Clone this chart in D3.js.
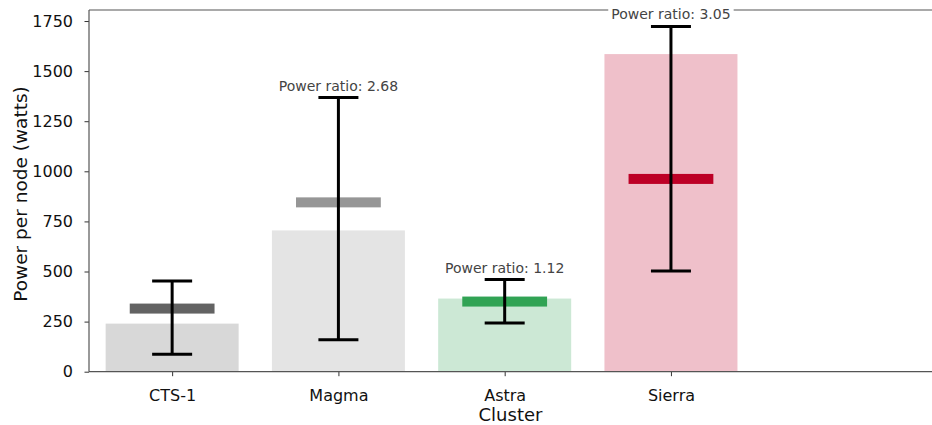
<!DOCTYPE html>
<html><head><meta charset="utf-8">
<script src="https://cdn.jsdelivr.net/npm/d3@7"></script>
<style>body{margin:0;background:#fff}svg{display:block}text{font-family:"DejaVu Sans",sans-serif}</style>
</head><body><svg id="c" width="932" height="425"></svg>
<script>
const categories = ["CTS-1","Magma","Astra","Sierra"];
const barValues = [240, 705, 365, 1585];
const errLow = [87, 160, 243, 502];
const errHigh = [453, 1368, 460, 1723];
const markerValues = [315, 845, 350, 962];
const ratioLabels = [null, "Power ratio: 2.68", "Power ratio: 1.12", "Power ratio: 3.05"];
const markerColors = ["#636363","#969696","#31a354","#bd0026"];
const barColors = ["#d8d8d8","#e4e4e4","#cce8d5","#efc0ca"];
const yTicks = [0,250,500,750,1000,1250,1500,1750];

const svg = d3.select("#c");
const L=89, R=932, T=10, B=371.7;
const x = d3.scaleLinear().domain([-0.5, 4.57]).range([L, R]);
const y = d3.scaleLinear().domain([0, 1805]).range([B, T]);
const bw = 0.8;

const g = svg.append("g");
categories.forEach((c,i)=>{
  g.append("rect").attr("x", x(i-bw/2)).attr("width", x(i+bw/2)-x(i-bw/2))
   .attr("y", y(barValues[i])).attr("height", y(0)-y(barValues[i])).attr("fill", barColors[i]);
});
categories.forEach((c,i)=>{
  const cx = x(i);
  const mw = x(0.255)-x(0);
  g.append("rect").attr("x", cx-mw).attr("width", 2*mw).attr("y", y(markerValues[i])-5).attr("height",10).attr("fill", markerColors[i]);
  g.append("line").attr("x1",cx).attr("x2",cx).attr("y1",y(errLow[i])).attr("y2",y(errHigh[i])).attr("stroke","#000").attr("stroke-width",3);
  [errLow[i], errHigh[i]].forEach(v=>{
    g.append("line").attr("x1",cx-20).attr("x2",cx+20).attr("y1",y(v)).attr("y2",y(v)).attr("stroke","#000").attr("stroke-width",3);
  });
});

// axes
const yAxis = d3.axisLeft(y).tickValues(yTicks).tickSize(4.5).tickPadding(11.5).tickFormat(d3.format("d"));
const ya = svg.append("g").attr("transform",`translate(${L},0)`).call(yAxis);
const xAxis = d3.axisBottom(x).tickValues(d3.range(categories.length)).tickSize(4.5).tickPadding(13).tickFormat(i=>categories[i]);
const xa = svg.append("g").attr("transform",`translate(0,${B})`).call(xAxis);
[ya,xa].forEach(a=>{
  a.attr("font-family",null).attr("font-size",null);
  a.select(".domain").remove();
  a.selectAll(".tick line").attr("stroke","#333").attr("stroke-width",1);
  a.selectAll(".tick text").attr("fill","#111").style("font-size","16px");
});
// spines
svg.append("line").attr("x1",L).attr("x2",R).attr("y1",B).attr("y2",B).attr("stroke","#555").attr("stroke-width",1.2);
svg.append("line").attr("x1",L).attr("x2",L).attr("y1",T).attr("y2",B).attr("stroke","#555").attr("stroke-width",1.2);
svg.append("line").attr("x1",L).attr("x2",R).attr("y1",T).attr("y2",T).attr("stroke","#555").attr("stroke-width",1.2);

// annotations
const ann = svg.append("g");
categories.forEach((c,i)=>{
  if(!ratioLabels[i]) return;
  const cx = x(i), ty = y(errHigh[i]) - 12;
  const bgRect = ann.append("rect").attr("fill","#fff");
  const t = ann.append("text").attr("x",cx).attr("y",ty).attr("text-anchor","middle").attr("dominant-baseline","central")
    .attr("fill","#444").style("font-size","14px").text(ratioLabels[i]);
  if(i===3){
    const bb = t.node().getBBox();
    bgRect.attr("x",bb.x-3).attr("y",bb.y-1).attr("width",bb.width+6).attr("height",bb.height+2);
  } else bgRect.remove();
});

svg.append("text").attr("x",(L+R)/2).attr("y",421).attr("text-anchor","middle").attr("fill","#111").style("font-size","18px").text("Cluster");
svg.append("text").attr("transform",`translate(27,194) rotate(-90)`).attr("text-anchor","middle").attr("fill","#111").style("font-size","18.5px").text("Power per node (watts)");
</script></body></html>
